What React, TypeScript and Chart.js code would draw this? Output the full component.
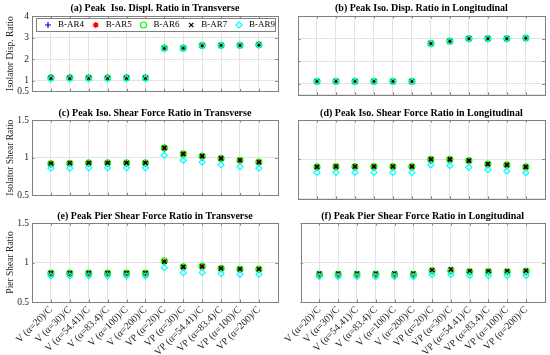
import React, { useEffect, useRef } from 'react';
import { Chart, registerables } from 'chart.js';

Chart.register(...registerables);

const FONT = "'Liberation Serif', 'Times New Roman', serif";

const categories = [
  'V (α=20)/C', 'V (α=30)/C', 'V (α=54.41)/C', 'V (α=83.4)/C', 'V (α=100)/C', 'V (α=200)/C',
  'VP (α=20)/C', 'VP (α=30)/C', 'VP (α=54.41)/C', 'VP (α=83.4)/C', 'VP (α=100)/C', 'VP (α=200)/C',
];
const seriesNames = ['B-AR4', 'B-AR5', 'B-AR6', 'B-AR7', 'B-AR9'];
const dispTicks = [0.5, 1, 2, 3, 4];
const shearTicks = [0.5, 1, 1.5];

// (a) Peak Iso. Displ. Ratio in Transverse
const a_AR4 = [1.15, 1.15, 1.15, 1.15, 1.15, 1.15, 2.52, 2.52, 2.64, 2.65, 2.65, 2.67];
const a_AR5 = [1.13, 1.13, 1.13, 1.13, 1.13, 1.13, 2.51, 2.51, 2.63, 2.64, 2.64, 2.66];
const a_AR6 = [1.13, 1.13, 1.13, 1.13, 1.13, 1.13, 2.51, 2.51, 2.63, 2.64, 2.64, 2.66];
const a_AR7 = [1.12, 1.12, 1.12, 1.12, 1.12, 1.12, 2.50, 2.51, 2.62, 2.64, 2.64, 2.66];
const a_AR9 = [1.08, 1.08, 1.08, 1.08, 1.08, 1.08, 2.49, 2.50, 2.61, 2.63, 2.63, 2.64];

// (b) Peak Iso. Disp. Ratio in Longitudinal
const b_AR4 = [1.08, 1.08, 1.08, 1.08, 1.08, 1.08, 2.74, 2.85, 2.97, 2.97, 2.97, 2.99];
const b_AR5 = [1.10, 1.10, 1.10, 1.10, 1.10, 1.10, 2.78, 2.88, 3.00, 3.00, 3.00, 3.02];
const b_AR6 = [1.10, 1.10, 1.10, 1.10, 1.10, 1.10, 2.78, 2.88, 3.00, 3.00, 3.00, 3.02];
const b_AR7 = [1.10, 1.10, 1.10, 1.10, 1.10, 1.10, 2.78, 2.88, 3.00, 3.00, 3.00, 3.02];
const b_AR9 = [1.09, 1.09, 1.09, 1.09, 1.09, 1.09, 2.77, 2.87, 2.99, 2.99, 2.99, 3.01];

// (c) Peak Iso. Shear Force Ratio in Transverse
const c_AR4 = [0.91, 0.915, 0.92, 0.92, 0.92, 0.92, 1.11, 1.03, 1.00, 0.97, 0.95, 0.925];
const c_AR5 = [0.92, 0.925, 0.93, 0.93, 0.93, 0.93, 1.13, 1.05, 1.02, 0.99, 0.965, 0.94];
const c_AR6 = [0.92, 0.925, 0.93, 0.93, 0.93, 0.93, 1.13, 1.05, 1.02, 0.99, 0.965, 0.94];
const c_AR7 = [0.92, 0.925, 0.93, 0.93, 0.93, 0.93, 1.13, 1.05, 1.02, 0.99, 0.965, 0.94];
const c_AR9 = [0.86, 0.86, 0.865, 0.865, 0.865, 0.865, 1.03, 0.965, 0.94, 0.905, 0.88, 0.86];

// (d) Peak Iso. Shear Force Ratio in Longitudinal
const d_AR4 = [0.89, 0.895, 0.895, 0.895, 0.895, 0.895, 0.98, 0.985, 0.97, 0.925, 0.915, 0.89];
const d_AR5 = [0.905, 0.91, 0.91, 0.91, 0.91, 0.91, 1.00, 1.00, 0.985, 0.94, 0.93, 0.905];
const d_AR6 = [0.905, 0.91, 0.91, 0.91, 0.91, 0.91, 1.00, 1.00, 0.985, 0.94, 0.93, 0.905];
const d_AR7 = [0.905, 0.91, 0.91, 0.91, 0.91, 0.91, 1.00, 1.00, 0.985, 0.94, 0.93, 0.905];
const d_AR9 = [0.835, 0.835, 0.835, 0.835, 0.835, 0.835, 0.93, 0.92, 0.90, 0.87, 0.85, 0.83];

// (e) Peak Pier Shear Force Ratio in Transverse
const e_AR4 = [0.85, 0.85, 0.85, 0.85, 0.85, 0.85, 1.00, 0.935, 0.94, 0.915, 0.905, 0.905];
const e_AR5 = [0.855, 0.855, 0.855, 0.855, 0.855, 0.855, 1.01, 0.94, 0.945, 0.92, 0.91, 0.91];
const e_AR6 = [0.865, 0.865, 0.865, 0.865, 0.865, 0.865, 1.02, 0.945, 0.953, 0.925, 0.915, 0.915];
const e_AR7 = [0.865, 0.865, 0.865, 0.865, 0.865, 0.865, 1.01, 0.945, 0.95, 0.925, 0.915, 0.915];
const e_AR9 = [0.83, 0.83, 0.83, 0.83, 0.83, 0.83, 0.935, 0.87, 0.875, 0.86, 0.85, 0.85];

// (f) Peak Pier Shear Force Ratio in Longitudinal
const f_AR4 = [0.84, 0.84, 0.84, 0.84, 0.84, 0.84, 0.89, 0.89, 0.88, 0.88, 0.88, 0.88];
const f_AR5 = [0.835, 0.835, 0.835, 0.835, 0.835, 0.835, 0.885, 0.885, 0.875, 0.875, 0.875, 0.875];
const f_AR6 = [0.85, 0.85, 0.85, 0.85, 0.85, 0.85, 0.895, 0.90, 0.885, 0.885, 0.885, 0.89];
const f_AR7 = [0.86, 0.86, 0.86, 0.86, 0.86, 0.86, 0.905, 0.915, 0.89, 0.89, 0.89, 0.895];
const f_AR9 = [0.82, 0.82, 0.82, 0.82, 0.82, 0.82, 0.845, 0.845, 0.835, 0.835, 0.835, 0.835];

const seriesStyles = [
  { color: '#0000ff', style: 'cross' },
  { color: '#ff0000', style: 'star' },
  { color: '#00ff00', style: 'circle' },
  { color: '#000000', style: 'crossRot' },
  { color: '#00ffff', style: 'rectRot' },
];

const FRAME = '#808080';
const GRID = '#e3e3e3';
const TEXT = '#262626';

type PanelCfg = {
  title: string;
  yTitle: string;
  ticks: number[];
  series: number[][];
  l: number; t: number; w: number; h: number;
  yW: number; xH: number; padR: number;
  tPadTop: number; tPadBot: number;
  showY: boolean; showX: boolean; legend: boolean;
};

const LEFT = { l: 0, w: 283, yW: 32, padR: 3, showY: true };
const RIGHT = { l: 283, w: 267, yW: 15, padR: 4, showY: false };
const ROW0 = { t: 0, h: 100, xH: 5, tPadTop: 2, tPadBot: 2, showX: false };
const ROW1 = { t: 100, h: 104, xH: 5, tPadTop: 7, tPadBot: 1, showX: false };
const ROW2 = { t: 204, h: 151, xH: 53, tPadTop: 6, tPadBot: 1, showX: true };

const panels: PanelCfg[] = [
  { ...LEFT, ...ROW0, title: '(a) Peak  Iso. Displ. Ratio in Transverse', yTitle: 'Isolator Disp. Ratio', ticks: dispTicks, series: [a_AR4, a_AR5, a_AR6, a_AR7, a_AR9], legend: true },
  { ...RIGHT, ...ROW0, title: '(b) Peak Iso. Disp. Ratio in Longitudinal', yTitle: '', ticks: dispTicks, series: [b_AR4, b_AR5, b_AR6, b_AR7, b_AR9], legend: false },
  { ...LEFT, ...ROW1, title: '(c) Peak Iso. Shear Force Ratio in Transverse', yTitle: 'Isolator Shear Ratio', ticks: shearTicks, series: [c_AR4, c_AR5, c_AR6, c_AR7, c_AR9], legend: false },
  { ...RIGHT, ...ROW1, title: '(d) Peak Iso. Shear Force Ratio in Longitudinal', yTitle: '', ticks: shearTicks, series: [d_AR4, d_AR5, d_AR6, d_AR7, d_AR9], legend: false },
  { ...LEFT, ...ROW2, title: '(e) Peak Pier Shear Force Ratio in Transverse', yTitle: 'Pier Shear Ratio', ticks: shearTicks, series: [e_AR4, e_AR5, e_AR6, e_AR7, e_AR9], legend: false },
  { ...RIGHT, ...ROW2, title: '(f) Peak Pier Shear Force Ratio in Longitudinal', yTitle: '', ticks: shearTicks, series: [f_AR4, f_AR5, f_AR6, f_AR7, f_AR9], legend: false },
];

function drawMarker(ctx: CanvasRenderingContext2D, style: string, color: string, x: number, y: number, r: number) {
  ctx.save();
  ctx.strokeStyle = color;
  ctx.lineWidth = 1.2;
  ctx.beginPath();
  if (style === 'cross' || style === 'star') {
    ctx.moveTo(x - r, y); ctx.lineTo(x + r, y);
    ctx.moveTo(x, y - r); ctx.lineTo(x, y + r);
  }
  if (style === 'crossRot' || style === 'star') {
    const d = r * 0.7071;
    ctx.moveTo(x - d, y - d); ctx.lineTo(x + d, y + d);
    ctx.moveTo(x - d, y + d); ctx.lineTo(x + d, y - d);
  }
  if (style === 'circle') {
    ctx.arc(x, y, r, 0, Math.PI * 2);
  }
  if (style === 'rectRot') {
    ctx.moveTo(x, y - r); ctx.lineTo(x + r, y); ctx.lineTo(x, y + r); ctx.lineTo(x - r, y); ctx.closePath();
  }
  ctx.stroke();
  ctx.restore();
}

const framePlugin = {
  id: 'frameBox',
  afterDatasetsDraw(chart: any) {
    const { ctx, chartArea: a } = chart;
    const xs = chart.scales.x;
    const ys = chart.scales.y;
    ctx.save();
    ctx.strokeStyle = FRAME;
    ctx.lineWidth = 1;
    ctx.strokeRect(Math.round(a.left) + 0.5, Math.round(a.top) + 0.5, Math.round(a.right - a.left), Math.round(a.bottom - a.top));
    ctx.beginPath();
    xs.ticks.forEach((t: any) => {
      const px = Math.round(xs.getPixelForValue(t.value)) + 0.5;
      ctx.moveTo(px, a.bottom); ctx.lineTo(px, a.bottom - 2.5);
      ctx.moveTo(px, a.top); ctx.lineTo(px, a.top + 2.5);
    });
    ys.ticks.forEach((t: any) => {
      const py = Math.round(ys.getPixelForValue(t.value)) + 0.5;
      ctx.moveTo(a.left, py); ctx.lineTo(a.left + 2.5, py);
      ctx.moveTo(a.right, py); ctx.lineTo(a.right - 2.5, py);
    });
    ctx.stroke();

    if (chart.options.plugins.boxLegend && chart.options.plugins.boxLegend.show) {
      const lx = a.left + 4, rx = a.right - 3, ty = a.top + 2, by = a.top + 15;
      ctx.fillStyle = '#ffffff';
      ctx.fillRect(lx, ty, rx - lx, by - ty);
      ctx.strokeStyle = FRAME;
      ctx.strokeRect(Math.round(lx) + 0.5, Math.round(ty) + 0.5, Math.round(rx - lx), Math.round(by - ty));
      const cy = (ty + by) / 2 + 0.5;
      const step = (rx - lx) / seriesNames.length;
      ctx.font = `9px ${FONT}`;
      ctx.fillStyle = '#000';
      ctx.textBaseline = 'middle';
      ctx.textAlign = 'left';
      seriesNames.forEach((name, i) => {
        const mx = lx + 12 + i * step;
        const st = seriesStyles[i];
        if (st.style === 'star') {
          ctx.fillStyle = st.color;
          ctx.beginPath(); ctx.arc(mx, cy, 2.2, 0, Math.PI * 2); ctx.fill();
          ctx.fillStyle = '#000';
        }
        drawMarker(ctx, st.style, st.color, mx, cy, 3);
        ctx.fillText(name, mx + 10, cy);
      });
    }
    ctx.restore();
  },
};

function Panel({ cfg }: { cfg: PanelCfg }) {
  const ref = useRef<HTMLCanvasElement>(null);
  useEffect(() => {
    const yMin = cfg.ticks[0];
    const yMax = cfg.ticks[cfg.ticks.length - 1];
    const chart = new Chart(ref.current as HTMLCanvasElement, {
      type: 'scatter',
      data: {
        datasets: cfg.series.map((vals, i) => ({
          label: seriesNames[i],
          data: vals.map((v, k) => ({ x: k + 1, y: v })),
          pointStyle: seriesStyles[i].style as any,
          borderColor: seriesStyles[i].color,
          backgroundColor: seriesStyles[i].style === 'star' ? seriesStyles[i].color : 'rgba(0,0,0,0)',
          pointRadius: 3,
          pointBorderWidth: 1.2,
          showLine: false,
          order: seriesStyles.length - 1 - i,
        })),
      },
      options: {
        responsive: false,
        animation: false,
        devicePixelRatio: 1,
        events: [],
        layout: { padding: { left: 0, right: cfg.padR, top: 0, bottom: 0 } },
        plugins: {
          legend: { display: false },
          tooltip: { enabled: false },
          title: {
            display: true,
            text: cfg.title,
            fullSize: false,
            color: '#000',
            font: { family: FONT, size: 10, weight: 'bold', lineHeight: '12px' } as any,
            padding: { top: cfg.tPadTop, bottom: cfg.tPadBot },
          },
          boxLegend: { show: cfg.legend },
        } as any,
        scales: {
          x: {
            type: 'linear',
            min: 0,
            max: categories.length + 1,
            afterBuildTicks: (s: any) => { s.ticks = categories.map((_, i) => ({ value: i + 1 })); },
            afterFit: (s: any) => { s.height = cfg.xH; },
            ticks: {
              display: cfg.showX,
              autoSkip: false,
              minRotation: 45,
              maxRotation: 45,
              padding: 2,
              color: TEXT,
              font: { family: FONT, size: 10 },
              callback: (v: any) => categories[Math.round(v) - 1] ?? '',
            },
            grid: { color: GRID, drawTicks: false, lineWidth: 1 },
            border: { display: false },
          },
          y: {
            type: 'linear',
            min: yMin,
            max: yMax,
            afterBuildTicks: (s: any) => { s.ticks = cfg.ticks.map((v) => ({ value: v })); },
            afterFit: (s: any) => { s.width = cfg.yW; },
            ticks: {
              display: cfg.showY,
              padding: 3,
              color: TEXT,
              font: { family: FONT, size: 9.5 },
              callback: (v: any) => String(v),
            },
            grid: { color: GRID, drawTicks: false, lineWidth: 1 },
            border: { display: false },
            title: {
              display: cfg.showY,
              text: cfg.yTitle,
              color: TEXT,
              font: { family: FONT, size: 9.5, lineHeight: '12px' } as any,
              padding: { top: 4, bottom: 0 },
            },
          },
        },
      },
      plugins: [framePlugin],
    });
    return () => chart.destroy();
  }, []);
  return (
    <canvas
      ref={ref}
      width={cfg.w}
      height={cfg.h}
      style={{ position: 'absolute', left: cfg.l, top: cfg.t, width: cfg.w, height: cfg.h }}
    />
  );
}

export default function App() {
  return (
    <div style={{ position: 'absolute', left: 0, top: 0, width: 550, height: 355, background: '#fff', overflow: 'hidden' }}>
      {panels.map((p, i) => (
        <Panel key={i} cfg={p} />
      ))}
    </div>
  );
}
